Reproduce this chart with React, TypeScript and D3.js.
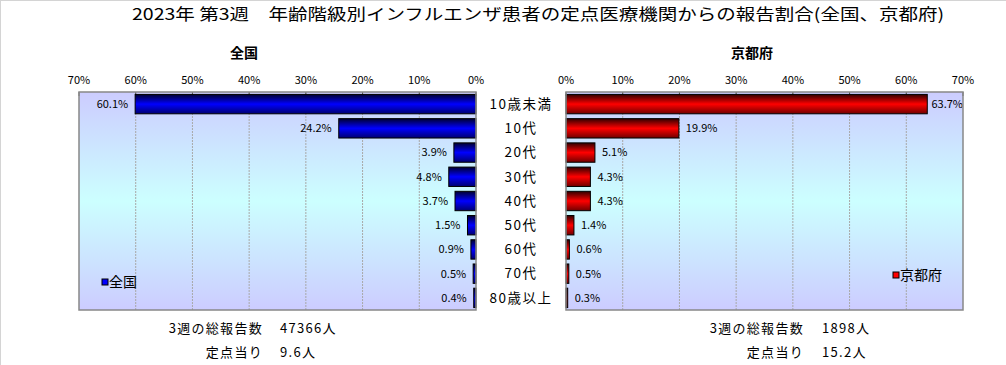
import React from "react";
import * as d3 from "d3";

const categories = ["10歳未満", "10代", "20代", "30代", "40代", "50代", "60代", "70代", "80歳以上"];
const nationalValues = [60.1, 24.2, 3.9, 4.8, 3.7, 1.5, 0.9, 0.5, 0.4];
const kyotoValues = [63.7, 19.9, 5.1, 4.3, 4.3, 1.4, 0.6, 0.5, 0.3];
const ticks = [0, 10, 20, 30, 40, 50, 60, 70];
const title = "2023年 第3週　年齢階級別インフルエンザ患者の定点医療機関からの報告割合(全国、京都府)";
const nationalTotal = "47366人";
const nationalPerPoint = "9.6人";
const kyotoTotal = "1898人";
const kyotoPerPoint = "15.2人";

const W = 1006;
const H = 365;
const FONT = "'Noto Sans CJK JP', 'Noto Sans', sans-serif";
const top = 92;
const bottom = 310;

export default function App() {
  const y = d3.scaleBand<string>().domain(categories).range([top, bottom]).paddingInner(0.2).paddingOuter(0.1);
  const xL = d3.scaleLinear().domain([0, 70]).range([476, 79]);
  const xR = d3.scaleLinear().domain([0, 70]).range([566, 963]);
  const bw = y.bandwidth();

  const panel = (
    x: d3.ScaleLinear<number, number>,
    values: number[],
    side: "L" | "R",
    grad: string
  ) => {
    const x0 = Math.min(x(0), x(70));
    const x1 = Math.max(x(0), x(70));
    return (
      <g>
        <rect x={x0} y={top} width={x1 - x0} height={bottom - top} fill="url(#bg)" />
        {ticks.slice(1, -1).map((t) => (
          <line key={t} x1={x(t)} x2={x(t)} y1={top} y2={bottom} stroke="#a8a8a8" strokeWidth={1} strokeDasharray="2,1" />
        ))}
        {ticks.map((t) => (
          <line key={"t" + t} x1={x(t)} x2={x(t)} y1={top} y2={top + 4} stroke="#555" strokeWidth={1} />
        ))}
        {ticks.map((t) => (
          <text key={"l" + t} x={x(t)} y={84} textAnchor="middle" fontSize={11} fontFamily={FONT} fill="#000">
            {t + "%"}
          </text>
        ))}
        {values.map((v, i) => {
          const xa = x(0);
          const xb = x(v);
          const yy = y(categories[i])!;
          const bx = Math.min(xa, xb);
          const w = Math.abs(xb - xa);
          let lx = side === "L" ? xb - 7 : xb + 7;
          let anchor = side === "L" ? "end" : "start";
          if (side === "R" && xb + 40 > x1) {
            lx = x1;
            anchor = "end";
          }
          return (
            <g key={i}>
              <rect x={bx} y={yy} width={w} height={bw} fill={`url(#${grad})`} stroke="#000" strokeWidth={1} />
              <text x={lx} y={yy + bw / 2} dy="0.35em" textAnchor={anchor} fontSize={11} fontFamily={FONT} fill="#000">
                {v.toFixed(1) + "%"}
              </text>
            </g>
          );
        })}
        <rect x={x0} y={top} width={x1 - x0} height={bottom - top} fill="none" stroke="#888" strokeWidth={1.5} />
      </g>
    );
  };

  const info = { fontSize: 13, fontFamily: FONT, letterSpacing: 1.3, fill: "#000" } as const;

  return (
    <svg width={W} height={H} style={{ position: "absolute", left: 0, top: 0, background: "#fff" }}>
      <defs>
        <linearGradient id="bg" x1="0" y1="0" x2="0" y2="1">
          <stop offset="0" stopColor="#ccccff" />
          <stop offset="0.5" stopColor="#ccffff" />
          <stop offset="1" stopColor="#ccccff" />
        </linearGradient>
        <linearGradient id="blueG" x1="0" y1="0" x2="0" y2="1">
          <stop offset="0" stopColor="#000030" />
          <stop offset="0.5" stopColor="#0000ff" />
          <stop offset="1" stopColor="#000070" />
        </linearGradient>
        <linearGradient id="redG" x1="0" y1="0" x2="0" y2="1">
          <stop offset="0" stopColor="#300000" />
          <stop offset="0.5" stopColor="#ff0000" />
          <stop offset="1" stopColor="#700000" />
        </linearGradient>
      </defs>
      <line x1={0} x2={W} y1={0.5} y2={0.5} stroke="#d4d4d4" strokeWidth={1} />
      <line x1={0.5} x2={0.5} y1={0} y2={H} stroke="#d4d4d4" strokeWidth={1} />
      <text x={132} y={20} fontSize={16} fontFamily={FONT} textLength={812} lengthAdjust="spacingAndGlyphs" fill="#000">
        {title}
      </text>
      <text x={244} y={58} textAnchor="middle" fontSize={14} fontWeight="bold" fontFamily={FONT}>全国</text>
      <text x={752} y={58} textAnchor="middle" fontSize={14} fontWeight="bold" fontFamily={FONT}>京都府</text>
      {panel(xL, nationalValues, "L", "blueG")}
      {panel(xR, kyotoValues, "R", "redG")}
      {categories.map((c) => (
        <text key={c} x={521} y={y(c)! + bw / 2} dy="0.35em" textAnchor="middle" fontSize={13.5} letterSpacing={1.5} fontFamily={FONT}>
          {c}
        </text>
      ))}
      <rect x={102} y={279} width={6} height={6} fill="#0000ff" stroke="#000" strokeWidth={1} />
      <text x={109} y={282} dy="0.35em" fontSize={14} fontFamily={FONT}>全国</text>
      <rect x={893} y={272} width={6} height={6} fill="#ff0000" stroke="#000" strokeWidth={1} />
      <text x={900} y={275} dy="0.35em" fontSize={14} fontFamily={FONT}>京都府</text>
      <text x={263} y={333} textAnchor="end" {...info}>3週の総報告数</text>
      <text x={280} y={333} {...info}>{nationalTotal}</text>
      <text x={263} y={357} textAnchor="end" {...info}>定点当り</text>
      <text x={280} y={357} {...info}>{nationalPerPoint}</text>
      <text x={804} y={333} textAnchor="end" {...info}>3週の総報告数</text>
      <text x={822} y={333} {...info}>{kyotoTotal}</text>
      <text x={804} y={357} textAnchor="end" {...info}>定点当り</text>
      <text x={822} y={357} {...info}>{kyotoPerPoint}</text>
    </svg>
  );
}
